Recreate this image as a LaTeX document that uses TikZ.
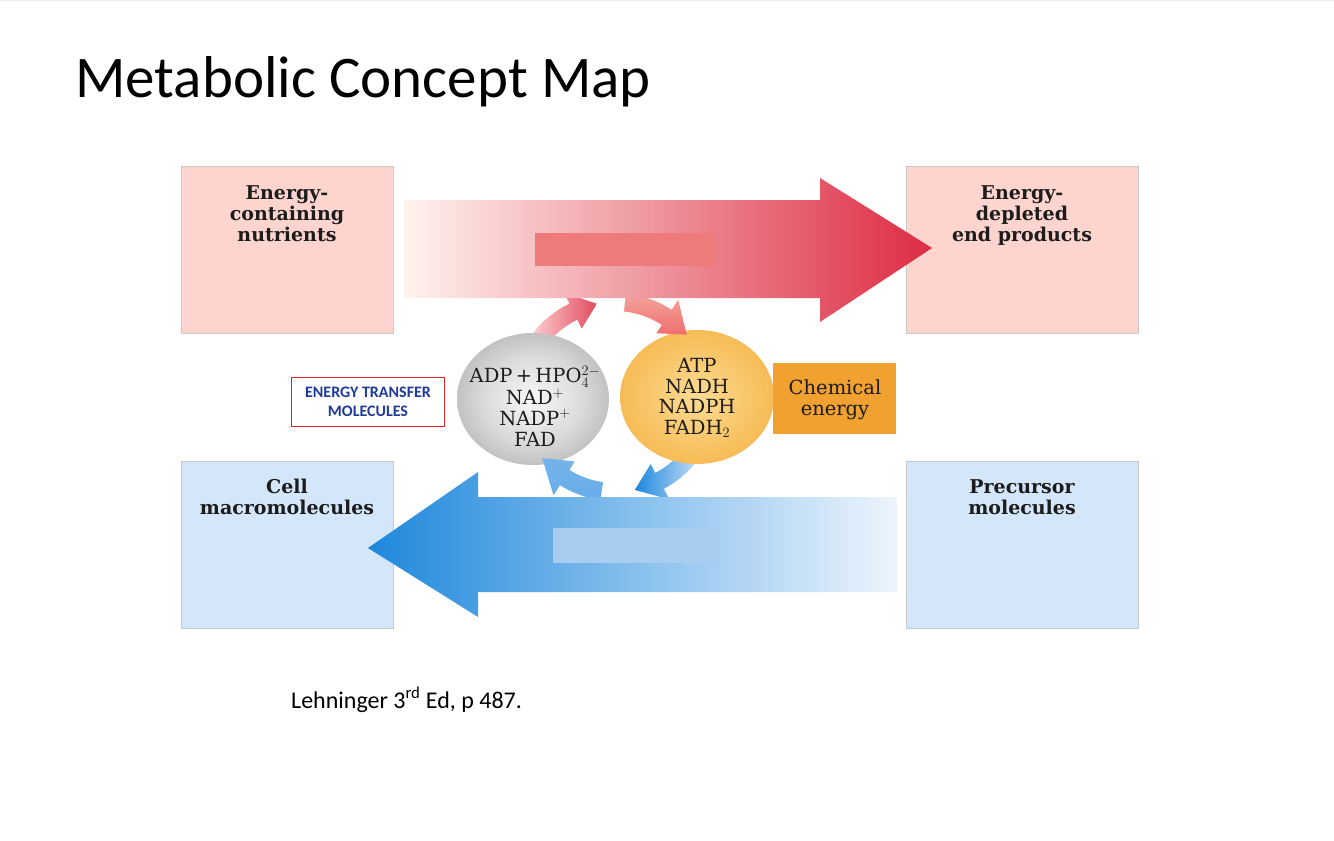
\documentclass[tikz,border=0pt]{standalone}
\usepackage{fontspec}
\usetikzlibrary{calc}
\newfontfamily\slidefont{Carlito}
\newfontfamily\figfont{DejaVu Serif}
\definecolor{pinkfill}{HTML}{FDD5CE}
\definecolor{bluefill}{HTML}{D4E6F9}
\definecolor{boxborder}{HTML}{C9C9C9}
\definecolor{chemfill}{HTML}{F0A12F}
\definecolor{redleft}{HTML}{FFF3EE}
\definecolor{redmid}{HTML}{F29A90}
\definecolor{redtip}{HTML}{DD2C44}
\definecolor{bluetip}{HTML}{1E88DC}
\definecolor{bluemid}{HTML}{6EB0EA}
\definecolor{blueright}{HTML}{EEF5FD}
\definecolor{innerred}{HTML}{EE7B7A}
\definecolor{innerblue}{HTML}{A9CDF1}
\definecolor{labelblue}{HTML}{1F3B99}
\definecolor{labelred}{HTML}{E02424}
\definecolor{figtext}{HTML}{1C1C1C}
\pgfdeclareradialshading{graysph}{\pgfpoint{0bp}{0bp}}{rgb(0bp)=(0.97,0.97,0.97); rgb(16bp)=(0.86,0.86,0.86); rgb(34bp)=(0.66,0.66,0.66); rgb(50bp)=(0.50,0.50,0.50)}
\pgfdeclareradialshading{orangesph}{\pgfpoint{0bp}{0bp}}{rgb(0bp)=(0.99,0.86,0.58); rgb(22bp)=(0.97,0.75,0.36); rgb(50bp)=(0.93,0.60,0.13)}
\newcommand\arcarrow[4]{%
  \shade[#4] ($(C)+(#1:86)$) arc[start angle=#1, end angle=#2, radius=86]
    -- ($(C)+(#2:76)$) -- ($(C)+(#3:95)$) -- ($(C)+(#2:116)$)
    -- ($(C)+(#2:104)$) arc[start angle=#2, end angle=#1, radius=104] -- cycle;}
\tikzset{
  corebox/.style={draw=boxborder, line width=1pt, minimum width=#1, minimum height=167pt, inner sep=0pt},
  pinkbox/.style={corebox=212pt, fill=pinkfill},
  pinkboxwide/.style={corebox=232pt, fill=pinkfill},
  bluebox/.style={corebox=212pt, fill=bluefill},
  blueboxwide/.style={corebox=232pt, fill=bluefill},
  boxlabel/.style={align=center, text=figtext, font=\figfont\bfseries\fontsize{19}{21}\selectfont, inner sep=0pt, anchor=north},
  sphtext/.style={align=center, text=figtext, font=\figfont\fontsize{19.5}{20.7}\selectfont, inner sep=0pt},
}
\begin{document}
\begin{tikzpicture}[x=1pt, y=-1pt]
\useasboundingbox (0,0) rectangle (1334,841);
\fill[white] (0,0) rectangle (1334,841);
\draw[gray!15, line width=1pt] (0,0.5) -- (1334,0.5);
% title
\node[anchor=base west, inner sep=0pt, font=\slidefont\fontsize{59}{60}\selectfont] (title) at (75,97) {Metabolic Concept Map};
% corner boxes
\node[pinkbox, anchor=north west] (nutr) at (181,166) {};
\node[pinkboxwide, anchor=north west] (depl) at (906,166) {};
\node[bluebox, anchor=north west] (macro) at (181,461) {};
\node[blueboxwide, anchor=north west] (prec) at (906,461) {};
\node[boxlabel] (nutrt) at (287,185) {Energy-\\containing\\nutrients};
\node[boxlabel] (deplt) at (1022,185) {Energy-\\depleted\\end products};
\node[boxlabel] (macrot) at (287,479) {Cell\\macromolecules};
\node[boxlabel] (prect) at (1022,479) {Precursor\\molecules};
% centre of the cycle
\coordinate (C) at (615,397);
% curved arrows that start inside the spheres
\arcarrow{-150}{-116}{-101}{left color=pink!70!red!30, right color=redtip!85!white}
\arcarrow{38}{62}{78}{left color=bluetip, right color=bluefill!80!bluemid}
% spheres
\shade[shading=graysph] (533,399) ellipse[x radius=76, y radius=66];
\node[sphtext] (gray) at (535,406) {ADP\,+\,HPO$_4^{2-}$\\NAD$^+$\\NADP$^+$\\FAD};
\shade[shading=orangesph] (697,397) ellipse[x radius=77, y radius=67];
\node[sphtext] (orange) at (697,398) {ATP\\NADH\\NADPH\\FADH$_2$};
% curved arrows that start in the big arrows
\arcarrow{-84}{-57}{-41}{top color=redmid!90!white, bottom color=innerred!90!red}
\arcarrow{98}{122}{140}{top color=bluemid!95!white, bottom color=bluemid!90!bluetip}
% big red arrow
\shade[left color=redleft, middle color=redmid, right color=redtip]
  (404,200) -- (820,200) -- (820,178) -- (932,248) -- (820,322) -- (820,298) -- (404,298) -- cycle;
\fill[innerred] (535,233) rectangle (715,266);
% big blue arrow
\shade[left color=bluetip, middle color=bluemid, right color=blueright]
  (897,497) -- (478,497) -- (478,472) -- (368,548) -- (478,617) -- (478,592) -- (897,592) -- cycle;
\fill[innerblue] (553,528) rectangle (720,563);
% chemical energy
\node[fill=chemfill, minimum width=123pt, minimum height=71pt, inner sep=0pt, anchor=north west] (chem) at (773,363) {};
\node[align=center, text=figtext, font=\figfont\fontsize{19.5}{21}\selectfont, inner sep=0pt] (chemt) at (835,400) {Chemical\\energy};
% energy transfer label
\node[draw=labelred, line width=1.3pt, fill=white, minimum width=153pt, minimum height=49pt, inner sep=0pt, anchor=north west] (etm) at (291,377) {};
\node[align=center, text=labelblue, font=\slidefont\bfseries\fontsize{16}{19}\selectfont, inner sep=0pt] (etmt) at (368,402) {ENERGY TRANSFER\\MOLECULES};
% citation
\node[anchor=base west, inner sep=0pt, font=\slidefont\fontsize{24}{28}\selectfont] (cite) at (291,708) {Lehninger 3\textsuperscript{rd} Ed, p 487.};
\end{tikzpicture}
\end{document}
